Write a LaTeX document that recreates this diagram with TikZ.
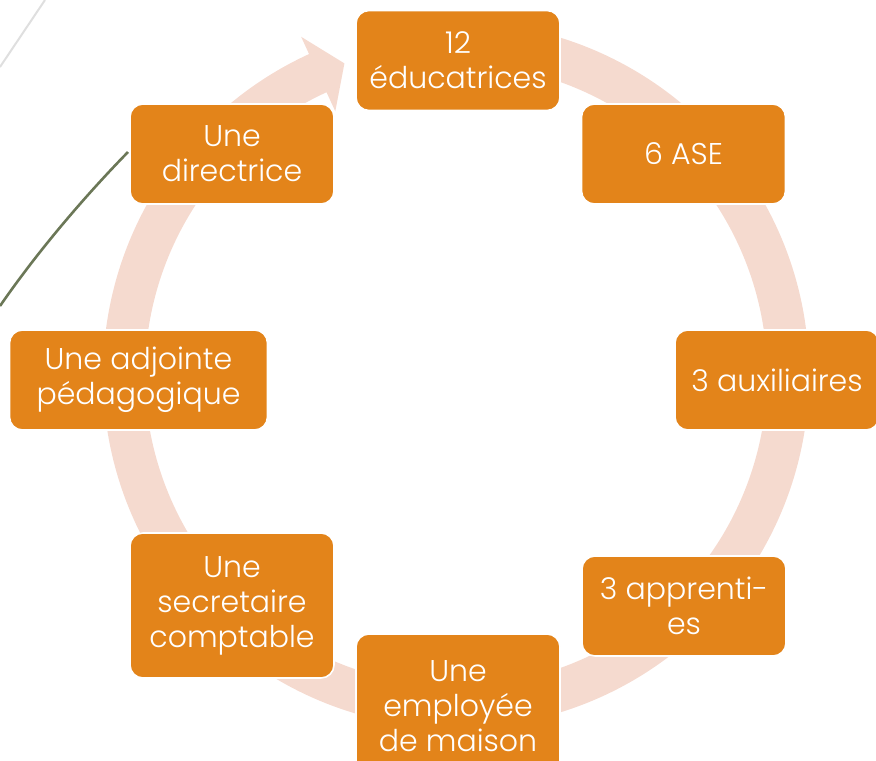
\documentclass[tikz,border=0pt]{standalone}
\usepackage{fontspec}
\setmainfont{Poppins}[UprightFont={* Light}]
\definecolor{boxorange}{HTML}{E3841A}
\definecolor{ringpink}{HTML}{F5DACF}
\definecolor{leafgreen}{HTML}{6B7757}

\begin{document}
\begin{tikzpicture}[x=0.5pt,y=0.5pt,
	unit/.style={fill=boxorange,draw=white,line width=0.8pt,rounded corners=6.5pt,text=white,align=center,inner sep=0pt,
		font=\fontsize{15}{17.5}\selectfont,minimum width=102pt,minimum height=50pt},
	tall/.style={minimum height=72.5pt}]
	\useasboundingbox (0,0) rectangle (876,-760);
	\draw[gray!25,line width=1pt] (0,-67) -- (45,0); % background strokes
	\draw[leafgreen,line width=1.3pt] (0,-306) .. controls (40,-248) and (88,-193) .. (128,-152);
	\begin{scope}[shift={(456,-375)}] % cycle arrow
		\fill[ringpink] (90:353) arc[start angle=90,end angle=-245.4,radius=353] -- (-245.4:372) -- (-250.3:331)
			-- (-245.4:290) -- (-245.4:311) arc[start angle=-245.4,end angle=90,radius=311] -- cycle;
	\end{scope}
	\node[unit] (edu) at (458,-60.5) {12\\éducatrices};
	\node[unit] (ase) at (683.5,-154) {6 ASE};
	\node[unit] (aux) at (777,-380) {3 auxiliaires};
	\node[unit] (appr) at (684,-606) {3 apprenti-\\es};
	\node[unit,tall] (empl) at (458,-706.5) {Une\\employée\\de maison};
	\node[unit,tall] (secr) at (232,-605.5) {Une\\secretaire\\comptable};
	\node[unit,minimum width=129pt] (adj) at (138.5,-380) {Une adjointe\\pédagogique};
	\node[unit] (dir) at (232,-154) {Une\\directrice};
\end{tikzpicture}
\end{document}
